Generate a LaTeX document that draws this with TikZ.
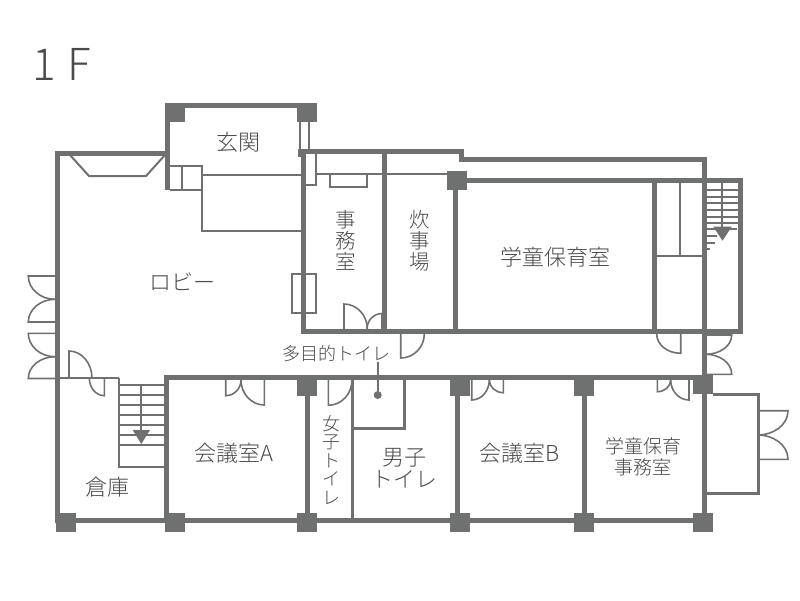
\documentclass[tikz,border=0pt]{standalone}
\usepackage{fontspec}
\setmainfont{Noto Sans CJK JP Light}
\definecolor{wallgray}{HTML}{6F7170}
\definecolor{textgray}{HTML}{4A4A4A}
\tikzset{
  wall/.style={draw=wallgray,line width=5pt,line cap=butt,line join=miter},
  thinwall/.style={draw=wallgray,line width=3pt},
  fitting/.style={draw=wallgray,line width=2pt},
  door/.style={draw=wallgray,line width=1.6pt},
  pillar/.style={fill=wallgray,draw=none},
  room/.style={text=textgray,font=\fontsize{22}{22}\selectfont,align=center,inner sep=0pt},
}
\begin{document}
\begin{tikzpicture}[x=1pt,y=-1pt,>=latex]
    \useasboundingbox (0,0) rectangle (800,600);

    % outer and inner walls
    \draw[wall] (167,190) -- (167,105.5) -- (307,105.5);
    \draw[wall] (57.3,523) -- (57.3,153.7) -- (167,153.7);
    \draw[wall] (298,151.3) -- (464,151.3);
    \draw[wall] (461.4,149) -- (461.4,159.2) -- (706.7,159.2);
    \draw[wall] (303.7,149) -- (303.7,331.5) -- (740.2,331.5) -- (740.2,180.8) -- (457,180.8);
    \draw[wall] (384.7,151) -- (384.7,331);
    \draw[wall] (455.8,180) -- (455.8,331);
    \draw[wall] (654,180) -- (654,331);
    \draw[wall] (704.2,157) -- (704.2,520);
    \draw[wall] (164,377.7) -- (704,377.7);
    \draw[wall] (166.7,375) -- (166.7,520);
    \draw[wall] (55,520.3) -- (704,520.3);
    \foreach \x in {307.5,457.5,584.5}
        \draw[wall] (\x,378) -- (\x,520);
    \draw[thinwall] (299.7,150) -- (299.7,157);

    % pillars
    \foreach \x/\y in {165/103,297/103,447.3/170.7,296.7/377,450/377,574/377,693.3/375,
                       56/512.7,165.3/512.7,296.7/512.7,450/512.7,574/512.7,693.3/512.7}
        \fill[pillar] (\x,\y) rectangle ++(20,19);

    % entrance fittings
    \draw[fitting] (300,122) -- (300,150) (308.5,122) -- (308.5,150);
    \draw[fitting] (70,155) -- (89,176) -- (146,176) -- (165,155);
    \draw[fitting] (170,166) -- (202,166) -- (202,230.7) -- (302,230.7);
    \draw[fitting] (170,189.7) -- (202,189.7);
    \draw[fitting] (182.3,166) -- (182.3,189.7);
    \draw[fitting] (202,174.7) -- (302,174.7);
    \draw[fitting] (306,185) -- (316,185) -- (316,153);
    \draw[fitting] (316,174) -- (448,174);
    \draw[fitting] (330,174) -- (330,186.5) -- (367,186.5) -- (367,174);
    \draw[fitting] (291.5,273.5) rectangle (316,313);

    % upper stairs and store
    \draw[fitting] (680,183) -- (680,255);
    \draw[fitting] (656,256) -- (702,256);
    \foreach \y in {190,196.7,203.3,210,216.7,223.3}
        \draw[fitting] (706,\y) -- (738,\y);
    \foreach \y/\x in {229/737,236/717,242.5/714.5,249/710}
        \draw[fitting] (706,\y) -- (\x,\y);
    \draw[fitting] (722.3,183) -- (722.3,228);
    \fill[pillar] (713.3,226.7) -- (731.7,226.7) -- (722.5,240.7) -- cycle;

    % lower stairs
    \draw[fitting] (118.8,378) -- (118.8,467) -- (165,467);
    \draw[fitting] (60,378.3) -- (118.8,378.3);
    \foreach \y in {385,395,405,415,425,435,445}
        \draw[fitting] (118.8,\y) -- (165,\y);
    \draw[fitting] (141,385) -- (141,431);
    \fill[pillar] (132.7,430) -- (150,430) -- (141.3,444) -- cycle;

    % toilets
    \draw[thinwall] (352.5,380) -- (352.5,519);
    \draw[thinwall] (352.5,428.5) -- (404.5,428.5) -- (404.5,380);
    \draw[fitting] (377.7,361.5) -- (377.7,395);
    \fill[pillar] (377.7,395) circle (4);

    % annex
    \draw[thinwall] (713,394) -- (758.3,394) -- (758.3,493.3) -- (706,493.3);

    % doors, leaf then swing
    \foreach \xa/\ya/\xb/\yb in {28.3/276/55/299.3, 28.3/322/55/299.3, 28.3/333.3/55/356.7, 28.3/378.5/55/356.7}
        \draw[door] (55,\ya) -- (\xa,\ya) .. controls (\xa,{\ya+(\yb-\ya)*0.55}) and ({\xb-(\xb-\xa)*0.55},\yb) .. (\xb,\yb);
    \foreach \xa/\ya/\xb/\yb in {69/351/92/378, 344/304/367.3/329, 400.7/358/424.3/334, 328.3/405.3/352/380}
        \draw[door] (\xa,{\yb}) -- (\xa,\ya) .. controls ({\xa+(\xb-\xa)*0.55},\ya) and (\xb,{\ya+(\yb-\ya)*0.45}) .. (\xb,\yb);
    \foreach \xa/\ya/\xb/\yb in {104.3/395.7/89.3/378, 225.7/395.7/241/380, 264.3/405/241/380,
                                 471.7/400/489.3/380, 503.3/392.7/489.3/380, 657.3/391.7/670.7/380,
                                 689/400/670.7/380, 680.7/353.3/656.7/334, 382/313.5/367/329}
        \draw[door] (\xa,\yb) -- (\xa,\ya) .. controls ({\xa+(\xb-\xa)*0.55},\ya) and (\xb,{\ya+(\yb-\ya)*0.45}) .. (\xb,\yb);
    \foreach \xl/\xr/\ya/\yb in {706/731.7/335/354.3, 706/731.7/374.3/354.3, 758/788/410.7/435, 758/788/459.3/435}
        \draw[door] (\xl,\ya) -- (\xr,\ya) .. controls (\xr,{\ya+(\yb-\ya)*0.6}) and ({\xl+(\xr-\xl)*0.5},\yb) .. (\xl,\yb);

    % labels
    \node[room,font=\fontsize{44}{44}\selectfont] (floor) at (61.5,64.5) {1\hspace{12pt}F};
    \node[room] (genkan) at (238,142) {玄関};
    \node[room] (lobby) at (182,282) {ロビー};
    \node[room,font=\fontsize{20.5}{21}\selectfont] (office) at (346,240) {事\\務\\室};
    \node[room,font=\fontsize{20.5}{21}\selectfont] (kitchen) at (420,241) {炊\\事\\場};
    \node[room] (gakudo) at (555,257) {学童保育室};
    \node[room] (confa) at (234,453) {会議室A};
    \node[room] (confb) at (520,453) {会議室B};
    \node[room] (store) at (107,487) {倉庫};
    \node[room,font=\fontsize{19}{20.5}\selectfont] (gakuoff) at (643,457) {学童保育\\事務室};
    \node[room] (mens) at (404,468) {男子\\トイレ};
    \node[room,font=\fontsize{18}{18.5}\selectfont] (womens) at (331,460) {女\\子\\ト\\イ\\レ};
    \node[room,font=\fontsize{18}{18}\selectfont] (multi) at (336.5,354) {多目的トイレ};
\end{tikzpicture}
\end{document}
